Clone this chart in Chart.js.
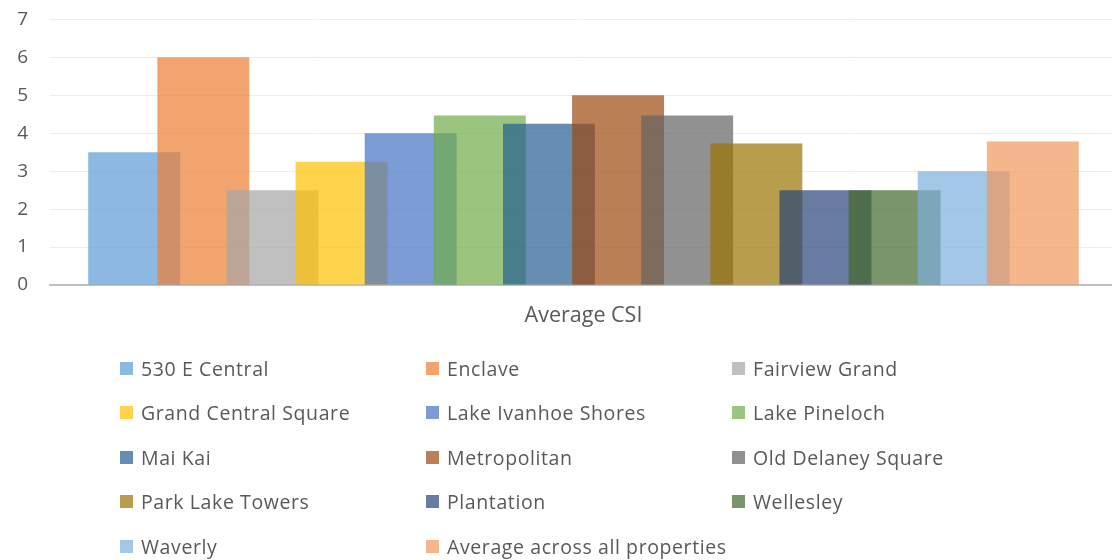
<!DOCTYPE html>
<html>
<head>
<meta charset="utf-8">
<script src="https://cdn.jsdelivr.net/npm/chart.js@4"></script>
<style>
  html, body { margin: 0; padding: 0; background: #fff; overflow: hidden; }
  #wrap { position: relative; width: 1117px; height: 560px; overflow: hidden; }
  #csiChart { position: absolute; left: 0; top: -14px; }
  #legend {
    position: absolute; left: 120px; top: 346px;
    display: grid; grid-template-columns: 306px 306px 306px; grid-auto-rows: 44.5px;
    font: 19.5px "Open Sans", sans-serif; letter-spacing: 0.6px; color: #595959;
  }
  .item { display: flex; align-items: center; white-space: nowrap; }
  .sw { width: 13px; height: 13px; margin-right: 8px; flex: none; }
</style>
</head>
<body>
<div id="wrap">
  <canvas id="csiChart" width="1117" height="560"></canvas>
  <div id="legend"></div>
</div>
<script>
// valores
const categories = ['Average CSI'];
const properties = [
    '530 E Central', 'Enclave', 'Fairview Grand', 'Grand Central Square',
    'Lake Ivanhoe Shores', 'Lake Pineloch', 'Mai Kai', 'Metropolitan',
    'Old Delaney Square', 'Park Lake Towers', 'Plantation', 'Wellesley',
    'Waverly', 'Average across all properties'
];
const csiValues = [3.5, 6.0, 2.5, 3.25, 4.0, 4.47, 4.25, 5.0, 4.47, 3.73, 2.5, 2.5, 3.0, 3.78];
const yTicks = [0, 1, 2, 3, 4, 5, 6, 7];
const colors = [
    '#5B9BD5', '#ED7D31', '#A5A5A5', '#FFC000', '#4472C4', '#70AD47', '#255E91',
    '#9E480E', '#636363', '#997300', '#264478', '#43682B', '#7CAFDD', '#F1975A'
];

function withAlpha(hex, a) {
    const n = parseInt(hex.slice(1), 16);
    return `rgba(${n >> 16}, ${(n >> 8) & 255}, ${n & 255}, ${a})`;
}

const textColor = '#595959';
const fontFamily = '"Open Sans", sans-serif';

// Excel pinta la última serie encima; Chart.js lo hace al revés
const drawInOrder = {
    id: 'drawInOrder',
    beforeDatasetsDraw(chart) {
        chart.getSortedVisibleDatasetMetas().forEach(meta => meta.controller.draw());
        return false;
    }
};

const datasets = properties.map((name, i) => ({
    label: name,
    data: [csiValues[i]],
    backgroundColor: withAlpha(colors[i], 0.7),
    borderWidth: 0
}));

const chart = new Chart(document.getElementById('csiChart'), {
    type: 'bar',
    data: { labels: categories, datasets: datasets },
    plugins: [drawInOrder],
    options: {
        responsive: false,
        animation: false,
        devicePixelRatio: 1,
        categoryPercentage: 0.907,
        barPercentage: 1.33,
        layout: { padding: { top: -13, left: 0, right: 0, bottom: 0 } },
        plugins: {
            legend: { display: false },
            tooltip: { enabled: false }
        },
        scales: {
            x: {
                grid: { display: false },
                border: { color: '#BFBFBF', width: 2 },
                ticks: { color: textColor, font: { family: fontFamily, size: 21.5 }, padding: 10 },
                afterFit(scale) { scale.height = 261; }
            },
            y: {
                min: 0,
                max: 7,
                afterBuildTicks(scale) { scale.ticks = yTicks.map(v => ({ value: v })); },
                grid: { color: '#EDEDED', drawTicks: false },
                border: { display: false },
                ticks: { color: textColor, font: { family: fontFamily, size: 19 }, padding: 22 },
                afterFit(scale) { scale.width = 50; }
            }
        }
    }
});

const legend = document.getElementById('legend');
chart.data.datasets.forEach(ds => {
    const item = document.createElement('div');
    item.className = 'item';
    const sw = document.createElement('span');
    sw.className = 'sw';
    sw.style.background = ds.backgroundColor;
    const txt = document.createElement('span');
    txt.textContent = ds.label;
    item.appendChild(sw);
    item.appendChild(txt);
    legend.appendChild(item);
});
</script>
</body>
</html>
